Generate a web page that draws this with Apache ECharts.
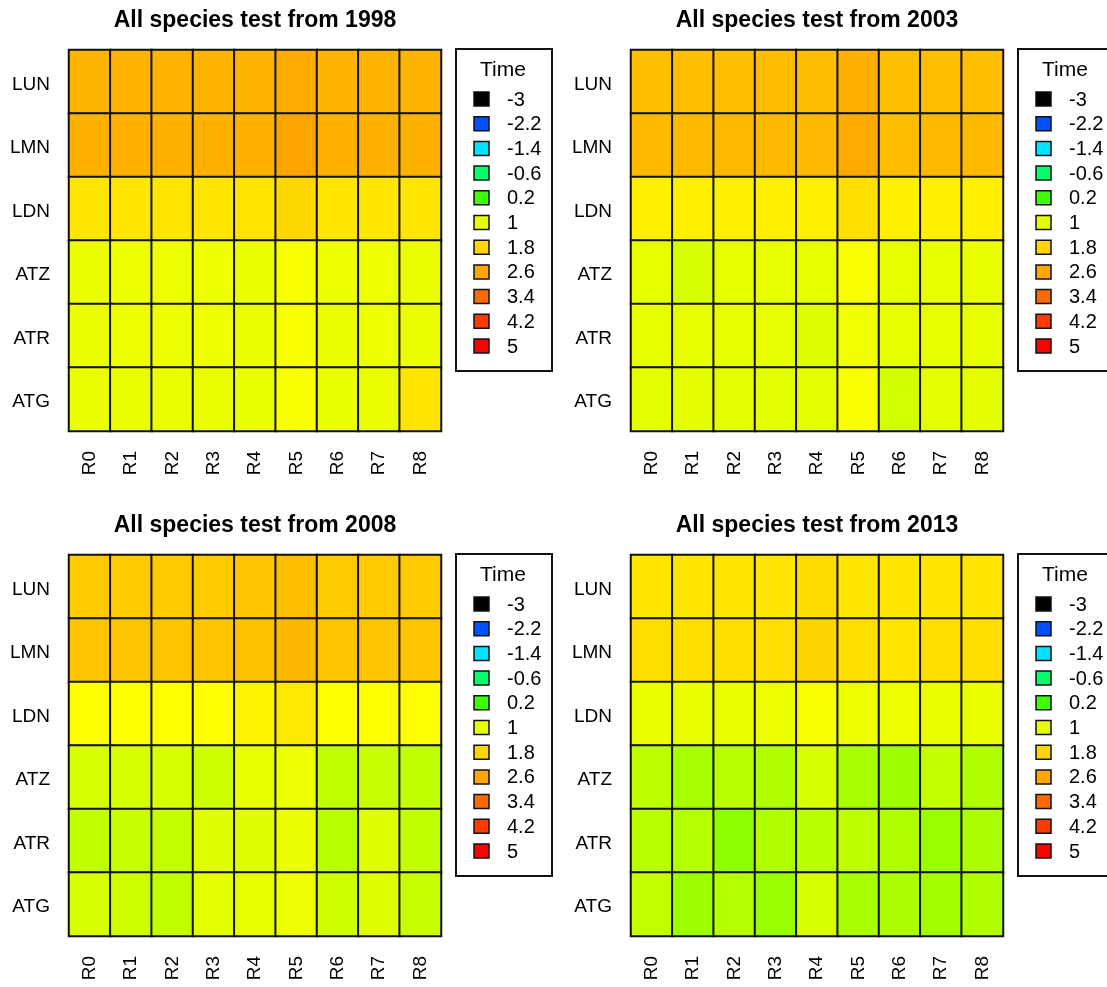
<!DOCTYPE html>
<html>
<head>
<meta charset="utf-8">
<script src="https://cdn.jsdelivr.net/npm/echarts@6/dist/echarts.min.js"></script>
<style>
  html, body { margin: 0; padding: 0; background: #ffffff; }
  #chart { width: 1107px; height: 987px; }
</style>
</head>
<body>
<div id="chart"></div>
<script>
// ---------- data ----------
const categories = ['R0', 'R1', 'R2', 'R3', 'R4', 'R5', 'R6', 'R7', 'R8'];
const rows = ['LUN', 'LMN', 'LDN', 'ATZ', 'ATR', 'ATG'];
const years = ['1998', '2003', '2008', '2013'];

const values1998 = [
  [2.33, 2.33, 2.33, 2.35, 2.35, 2.53, 2.33, 2.33, 2.33],
  [2.41, 2.40, 2.40, 2.41, 2.42, 2.61, 2.40, 2.40, 2.41],
  [1.60, 1.60, 1.60, 1.60, 1.62, 1.76, 1.60, 1.60, 1.60],
  [1.08, 1.10, 1.10, 1.10, 1.08, 1.22, 1.10, 1.10, 1.08],
  [1.08, 1.10, 1.10, 1.10, 1.08, 1.22, 1.08, 1.10, 1.08],
  [1.06, 1.08, 1.08, 1.06, 1.05, 1.22, 1.05, 1.08, 1.62]
];
const values2003 = [
  [2.19, 2.19, 2.19, 2.22, 2.22, 2.43, 2.19, 2.19, 2.19],
  [2.25, 2.25, 2.25, 2.27, 2.27, 2.53, 2.22, 2.25, 2.25],
  [1.48, 1.48, 1.48, 1.48, 1.48, 1.67, 1.48, 1.48, 1.48],
  [1.03, 0.93, 1.03, 1.03, 1.03, 1.22, 1.03, 1.05, 1.05],
  [1.03, 1.03, 1.03, 1.03, 0.97, 1.15, 1.03, 1.03, 1.03],
  [0.99, 1.01, 0.99, 0.99, 0.99, 1.24, 0.90, 0.99, 1.01]
];
const values2008 = [
  [1.98, 1.98, 1.98, 1.98, 2.05, 2.19, 1.98, 1.98, 1.98],
  [2.08, 2.08, 2.08, 2.08, 2.15, 2.29, 2.08, 2.08, 2.08],
  [1.30, 1.30, 1.30, 1.30, 1.42, 1.57, 1.30, 1.30, 1.30],
  [0.93, 0.93, 0.93, 0.88, 1.03, 1.10, 0.82, 0.86, 0.82],
  [0.82, 0.86, 0.84, 0.97, 0.97, 1.08, 0.78, 0.97, 0.82],
  [0.93, 0.88, 0.82, 0.99, 1.03, 1.10, 0.88, 0.97, 0.86]
];
const values2013 = [
  [1.60, 1.60, 1.60, 1.60, 1.71, 1.60, 1.60, 1.60, 1.60],
  [1.67, 1.67, 1.67, 1.67, 1.80, 1.67, 1.62, 1.67, 1.67],
  [1.08, 1.08, 1.08, 1.10, 1.22, 1.10, 1.10, 1.08, 1.08],
  [0.80, 0.70, 0.78, 0.74, 0.93, 0.70, 0.66, 0.84, 0.74],
  [0.78, 0.76, 0.57, 0.74, 0.78, 0.80, 0.74, 0.63, 0.72],
  [0.84, 0.66, 0.76, 0.63, 0.93, 0.70, 0.72, 0.68, 0.74]
];

const legendTitle = 'Time';
const legendTicks = [-3, -2.2, -1.4, -0.6, 0.2, 1, 1.8, 2.6, 3.4, 4.2, 5];
const legendHues = [221, 221, 186, 145, 105, 66, 50, 39, 25, 13.6, 0];

// ---------- palette (HSV hue ramp, black at the low end) ----------
function hsvToHex(h, v) {
  h = ((h % 360) + 360) % 360;
  const c = v, x = c * (1 - Math.abs((h / 60) % 2 - 1));
  let r, g, b;
  if (h < 60) { r = c; g = x; b = 0; }
  else if (h < 120) { r = x; g = c; b = 0; }
  else if (h < 180) { r = 0; g = c; b = x; }
  else if (h < 240) { r = 0; g = x; b = c; }
  else if (h < 300) { r = x; g = 0; b = c; }
  else { r = c; g = 0; b = x; }
  const hx = n => Math.round(n * 255).toString(16).padStart(2, '0');
  return '#' + hx(r) + hx(g) + hx(b);
}
function paletteColor(val) {
  const t = legendTicks;
  if (val <= t[0]) return '#000000';
  if (val >= t[t.length - 1]) return hsvToHex(legendHues[legendHues.length - 1], 1);
  for (let i = 0; i < t.length - 1; i++) {
    if (val >= t[i] && val <= t[i + 1]) {
      const f = (val - t[i]) / (t[i + 1] - t[i]);
      if (i === 0) return hsvToHex(legendHues[1], f);
      return hsvToHex(legendHues[i] + (legendHues[i + 1] - legendHues[i]) * f, 1);
    }
  }
}
const vMin = legendTicks[0], vMax = legendTicks[legendTicks.length - 1];
const rampColors = [];
for (let i = 0; i <= 160; i++) rampColors.push(paletteColor(vMin + (vMax - vMin) * i / 160));

// ---------- layout ----------
const FONT = "'Liberation Sans', Arial, Helvetica, sans-serif";
const panelData = [values1998, values2003, values2008, values2013];
const offX = [0, 562, 0, 562];
const offY = [0, 0, 505, 505];

const grids = [], xAxes = [], yAxes = [], series = [], titles = [], graphics = [];

panelData.forEach((vals, p) => {
  const ox = offX[p], oy = offY[p];
  grids.push({ left: 69 + ox, top: 50 + oy, width: 372, height: 381 });
  xAxes.push({
    type: 'category', gridIndex: p, data: categories,
    axisLine: { show: false }, axisTick: { show: false }, splitLine: { show: false },
    axisLabel: { rotate: 90, margin: 20, fontSize: 19, color: '#000', fontFamily: FONT }
  });
  yAxes.push({
    type: 'category', gridIndex: p, data: rows, inverse: true,
    axisLine: { show: false }, axisTick: { show: false }, splitLine: { show: false },
    axisLabel: { margin: 19, fontSize: 19, color: '#000', fontFamily: FONT,
                 verticalAlign: 'top', lineHeight: 6 }
  });
  const data = [];
  vals.forEach((row, r) => row.forEach((v, c) => data.push([c, r, v])));
  series.push({
    type: 'heatmap', xAxisIndex: p, yAxisIndex: p, data: data,
    itemStyle: { borderColor: '#111', borderWidth: 2 },
    emphasis: { disabled: true }
  });
  titles.push({
    text: 'All species test from ' + years[p],
    left: 255 + ox, top: 9 + oy, textAlign: 'center', padding: 0,
    textStyle: { fontSize: 23, fontWeight: 'bold', color: '#000', fontFamily: FONT }
  });

  // legend box
  graphics.push({
    type: 'rect', shape: { x: 456 + ox, y: 49 + oy, width: 96, height: 322 },
    style: { fill: '#fff', stroke: '#111', lineWidth: 2 }, silent: true
  });
  graphics.push({
    type: 'text', x: 503 + ox, y: 70 + oy, silent: true,
    style: { text: legendTitle, fontSize: 21, fontFamily: FONT, fill: '#000',
             textAlign: 'center', textVerticalAlign: 'middle' }
  });
  legendTicks.forEach((t, i) => {
    const cy = 99 + oy + i * 24.7;
    graphics.push({
      type: 'rect', shape: { x: 474 + ox, y: cy - 7, width: 15, height: 14 },
      style: { fill: paletteColor(t), stroke: '#111', lineWidth: 1.5 }, silent: true
    });
    graphics.push({
      type: 'text', x: 507 + ox, y: cy + 1, silent: true,
      style: { text: String(t), fontSize: 20, fontFamily: FONT, fill: '#000',
               textAlign: 'left', textVerticalAlign: 'middle' }
    });
  });
});

const chart = echarts.init(document.getElementById('chart'), null, { renderer: 'canvas' });
chart.setOption({
  animation: false,
  backgroundColor: '#ffffff',
  title: titles,
  grid: grids,
  xAxis: xAxes,
  yAxis: yAxes,
  visualMap: {
    type: 'continuous', show: false, min: vMin, max: vMax,
    seriesIndex: [0, 1, 2, 3], inRange: { color: rampColors }
  },
  series: series,
  graphic: graphics
});
</script>
</body>
</html>
